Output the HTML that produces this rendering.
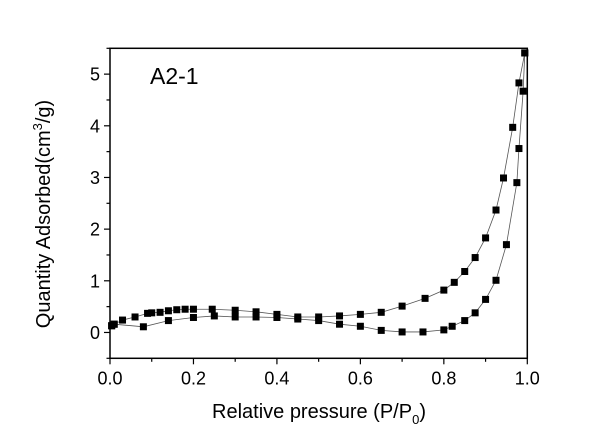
<!DOCTYPE html>
<html><head><meta charset="utf-8"><style>
body{margin:0;background:#fff}
svg{display:block;font-family:"Liberation Sans",Arial,sans-serif}
</style></head><body>
<svg id="chart" width="600" height="427" xmlns="http://www.w3.org/2000/svg">
<rect width="600" height="427" fill="#fff"/>
<g id="plot"></g>
<text x="150" y="84" font-size="23">A2-1</text>
<text x="319" y="418" font-size="20" text-anchor="middle">Relative pressure (P/P<tspan font-size="13" dy="6">0</tspan><tspan dy="-6">)</tspan></text>
<text transform="translate(50,214) rotate(-90)" font-size="20" text-anchor="middle">Quantity Adsorbed(cm<tspan font-size="13" dy="-8">3</tspan><tspan dy="8">/g)</tspan></text>
</svg>
<script>
const adsX=[0.004,0.01,0.08,0.14,0.2,0.25,0.3,0.35,0.4,0.45,0.5,0.55,0.6,0.65,0.7,0.75,0.8,0.82,0.85,0.875,0.9,0.925,0.95,0.975,0.98,0.99,0.994];
const adsY=[0.13,0.16,0.11,0.23,0.29,0.32,0.3,0.3,0.29,0.26,0.23,0.16,0.12,0.04,0.01,0.01,0.05,0.12,0.23,0.38,0.64,1.01,1.7,2.9,3.56,4.67,5.41];
const desX=[0.994,0.98,0.965,0.943,0.925,0.9,0.875,0.85,0.825,0.8,0.755,0.7,0.65,0.6,0.55,0.5,0.45,0.4,0.35,0.3,0.245,0.2,0.18,0.16,0.14,0.12,0.1,0.09,0.06,0.03,0.01,0.004];
const desY=[5.41,4.83,3.97,2.99,2.37,1.83,1.45,1.18,0.97,0.82,0.66,0.51,0.39,0.35,0.32,0.3,0.3,0.35,0.4,0.43,0.45,0.45,0.45,0.44,0.42,0.39,0.38,0.37,0.3,0.24,0.16,0.13];
const xTicks=[0,0.2,0.4,0.6,0.8,1.0];
const yTicks=[0,1,2,3,4,5];
const L=110,R=527.3,T=48.3,B=358.3,XMIN=0,XMAX=1,YMIN=-0.5,YMAX=5.5;
const sx=v=>L+(v-XMIN)/(XMAX-XMIN)*(R-L);
const sy=v=>B-(v-YMIN)/(YMAX-YMIN)*(B-T);
const NS="http://www.w3.org/2000/svg";
const g=document.getElementById('plot');
function mk(t,a){const e=document.createElementNS(NS,t);for(const k in a)e.setAttribute(k,a[k]);g.appendChild(e);return e;}
const frame=mk('rect',{x:L,y:T,width:R-L,height:B-T,fill:'none',stroke:'#000','stroke-width':1.5});


for(let i=0;i<=10;i++){const v=i/10,maj=i%2==0;
 const t=mk('line',{x1:sx(v),x2:sx(v),y1:B,y2:B+(maj?6:3.5),stroke:'#000','stroke-width':1.2});
 
 }
xTicks.forEach(v=>{const t=mk('text',{x:sx(v),y:B+26,'font-size':18,'text-anchor':'middle'});t.textContent=v.toFixed(1);
 
 });
for(let i=0;i<=12;i++){const v=-0.5+i*0.5,maj=i%2==1;
 const t=mk('line',{x1:L-(maj?6:3.5),x2:L,y1:sy(v),y2:sy(v),stroke:'#000','stroke-width':1.2});
 
 }
yTicks.forEach(v=>{const t=mk('text',{x:L-10,y:sy(v)+6.5,'font-size':18,'text-anchor':'end'});t.textContent=v;
 
 });
function series(xs,ys,name){
 const p=mk('polyline',{points:xs.map((x,i)=>sx(x)+','+sy(ys[i])).join(' '),fill:'none',stroke:'#555','stroke-width':0.8});
 
 
 xs.forEach((x,i)=>{const r=mk('rect',{x:sx(x)-3.5,y:sy(ys[i])-3.5,width:7,height:7,fill:'#000'});
  
  });
}
series(adsX,adsY,'adsorption');
series(desX,desY,'desorption');
</script>
</body></html>
